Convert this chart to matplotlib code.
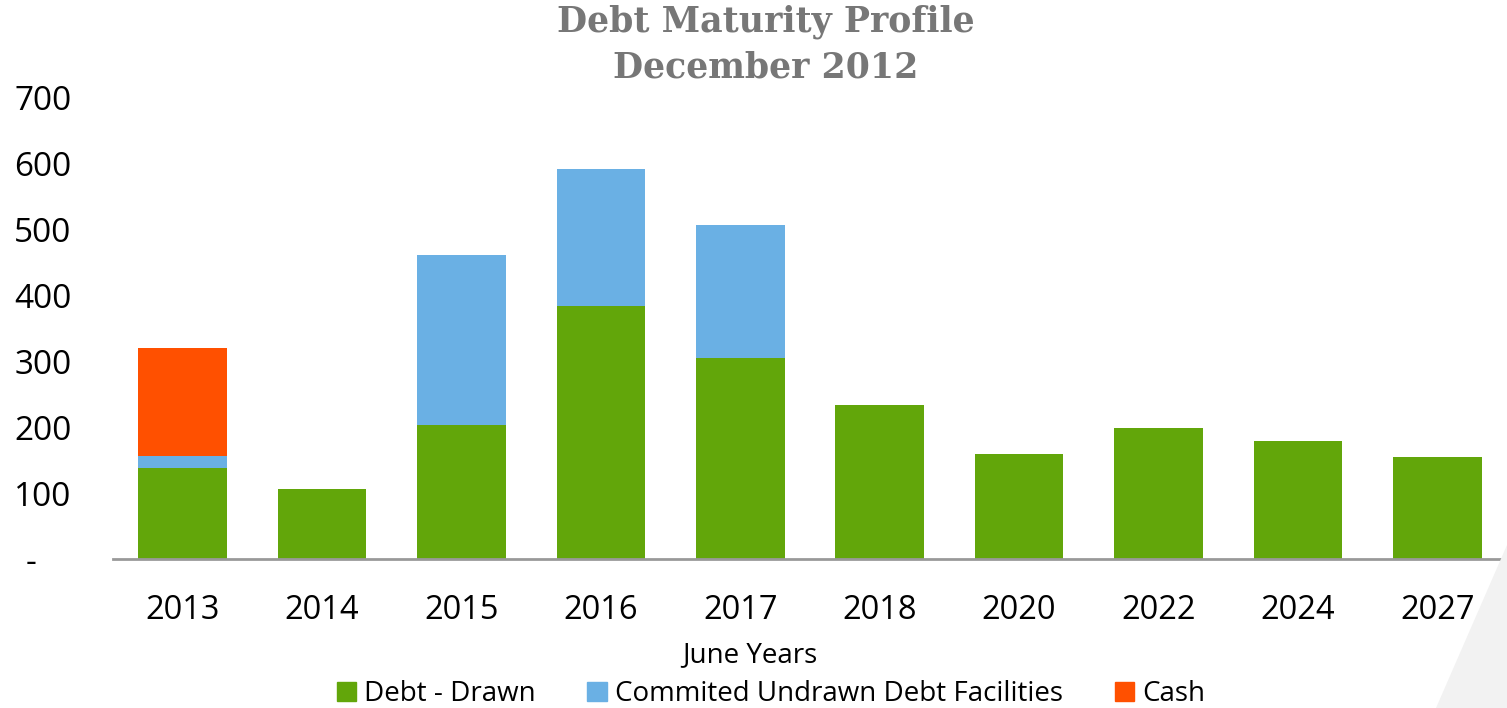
import numpy as np
import matplotlib.pyplot as plt
from matplotlib.patches import Polygon, Patch

# Data
years = ['2013', '2014', '2015', '2016', '2017', '2018', '2020', '2022', '2024', '2027']
debtDrawn = [138, 106, 203, 383, 305, 233, 159, 198, 179, 155]
undrawn = [18, 0, 258, 208, 201, 0, 0, 0, 0, 0]
cash = [164, 0, 0, 0, 0, 0, 0, 0, 0, 0]

yTicks = [0, 100, 200, 300, 400, 500, 600, 700]
yTickLabels = ['-    ', '100', '200', '300', '400', '500', '600', '700']

green = '#62A60A'
blue = '#6AB0E4'
orange = '#FF5000'

def main():
    W, H = 1507, 708
    fig = plt.figure(figsize=(W / 100, H / 100), dpi=100)

    # light gray decoration bottom right
    deco = Polygon([(1507 / W, 1 - 545 / H), (1507 / W, 0), (1436 / W, 0)],
                   closed=True, transform=fig.transFigure, facecolor='#F2F2F2',
                   edgecolor='none', zorder=0)
    fig.patches.append(deco)

    left, right = 113 / W, 1507 / W
    bottom, top = 1 - 559 / H, 1 - 97 / H
    ax = fig.add_axes([left, bottom, right - left, top - bottom])
    ax.patch.set_alpha(0)

    x = np.arange(len(years))
    debtDrawnArr = np.array(debtDrawn)
    undrawnArr = np.array(undrawn)
    cashArr = np.array(cash)
    w = 0.635
    ax.bar(x, debtDrawnArr, width=w, color=green, zorder=2)
    ax.bar(x, undrawnArr, width=w, bottom=debtDrawnArr, color=blue, zorder=2)
    ax.bar(x, cashArr, width=w, bottom=debtDrawnArr + undrawnArr, color=orange, zorder=2)

    ax.set_xlim(-0.5, len(years) - 0.5)
    ax.set_ylim(0, 700)
    ax.set_yticks(yTicks)
    ax.set_yticklabels(yTickLabels)
    ax.set_xticks(x)
    ax.set_xticklabels(years)

    for s in ['top', 'right', 'left']:
        ax.spines[s].set_visible(False)
    ax.spines['bottom'].set_color('#999999')
    ax.spines['bottom'].set_linewidth(2)
    ax.tick_params(axis='both', length=0, labelcolor='black')
    ax.tick_params(axis='y', pad=30, labelsize=24)
    ax.tick_params(axis='x', pad=25, labelsize=23.5)
    for lab in ax.get_xticklabels() + ax.get_yticklabels():
        lab.set_family('Open Sans')

    fig.text(766 / W, 1 - 22 / H, 'Debt Maturity Profile', ha='center', va='center',
             fontsize=25, fontweight='bold', color='#777777', family='DejaVu Serif')
    fig.text(766 / W, 1 - 68 / H, 'December 2012', ha='center', va='center',
             fontsize=25, fontweight='bold', color='#777777', family='DejaVu Serif')

    fig.text(750 / W, 1 - 655 / H, 'June Years', ha='center', va='center',
             fontsize=20, family='Open Sans')

    handles = [Patch(color=green), Patch(color=blue), Patch(color=orange)]
    labels = ['Debt - Drawn', 'Commited Undrawn Debt Facilities', 'Cash']
    fig.legend(handles, labels, loc='center', bbox_to_anchor=(771 / W, 1 - 694 / H),
               ncol=3, frameon=False, prop={'family': 'Open Sans', 'size': 20},
               handlelength=0.7, handleheight=0.7, handletextpad=0.3, columnspacing=1.85)

    plt.savefig('out.png', dpi=100)

if __name__ == '__main__':
    main()
